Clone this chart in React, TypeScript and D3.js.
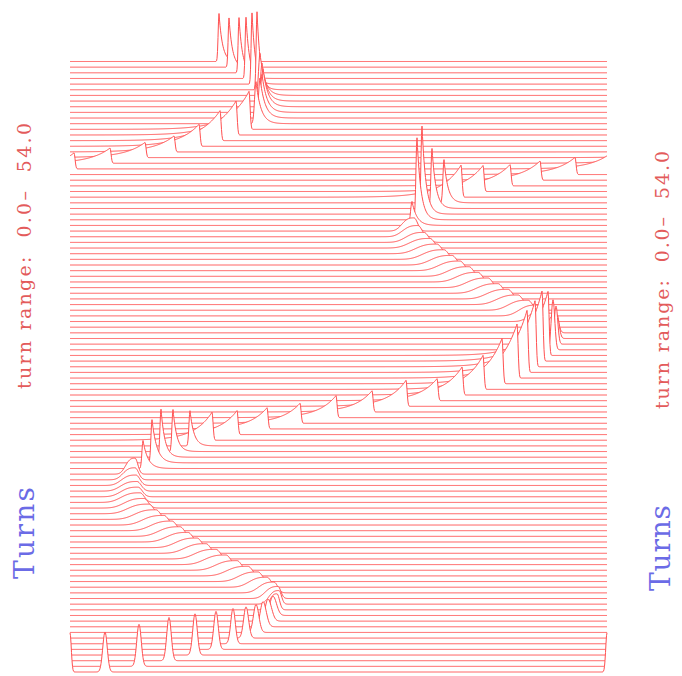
import React, { useEffect, useRef } from "react";
import * as d3 from "d3";

// one trace every half turn, turn 0.0 at the bottom up to 54.0 at the top
const turnRange = [0, 54];
const turnStep = 0.5;
const binsPerTurn = 537;

// bunch peak position per trace (time bins inside the window)
const peakBin = [
  35, 69, 99, 125, 146, 163, 176, 186, 193, 198,
  203, 207, 209, 208, 204, 197, 188, 178, 167, 156,
  146, 136, 127, 118, 110, 102, 94, 86, 79, 74,
  70, 68, 67, 66, 65, 65, 73, 82, 91, 103,
  120, 142, 167, 197, 230, 266, 302, 336, 367, 392,
  413, 432, 447, 457, 465, 472, 478, 483, 486, 487,
  486, 481, 475, 467, 458, 448, 438, 428, 418, 408,
  399, 390, 382, 374, 367, 360, 354, 348, 344, 342,
  347, 352, 362, 374, 391, 413, 440, 470, 505, 4,
  40, 75, 104, 129, 150, 166, 179, 186, 190, 192,
  193, 192, 190, 187, 182, 176, 169, 159, 149,
];

// peak amplitude, normalised to the first bunch
const peakAmp = [
  1.0, 1.05, 1.08, 1.03, 0.95, 0.88, 0.78, 0.7, 0.63, 0.55,
  0.48, 0.4, 0.34, 0.3, 0.27, 0.25, 0.24, 0.24, 0.24, 0.24,
  0.24, 0.24, 0.24, 0.24, 0.24, 0.24, 0.24, 0.24, 0.24, 0.24,
  0.24, 0.24, 0.24, 0.26, 0.3, 0.4, 0.7, 1.08, 1.2, 1.05,
  0.88, 0.7, 0.6, 0.53, 0.5, 0.55, 0.53, 0.65, 0.55, 0.7,
  0.85, 1.13, 1.35, 1.55, 1.65, 1.75, 1.6, 1.25, 0.95, 0.6,
  0.45, 0.35, 0.3, 0.27, 0.25, 0.24, 0.24, 0.24, 0.24, 0.24,
  0.24, 0.24, 0.24, 0.24, 0.24, 0.24, 0.25, 0.28, 0.33, 0.6,
  2.05, 2.2, 1.5, 1.08, 0.8, 0.65, 0.53, 0.48, 0.43, 0.4,
  0.38, 0.38, 0.4, 0.55, 0.75, 0.85, 0.95, 1.05, 1.0, 0.95,
  0.95, 0.95, 1.05, 1.95, 1.78, 1.53, 1.38, 1.23, 1.2,
];

// width of the early (left) side of each bunch, in bins
const riseWidth = [
  3.2, 3.2, 3.2, 3.2, 3.2, 3.2, 3.4, 3.6, 3.8, 4,
  4.5, 9, 12, 15, 18, 21, 23, 25, 25, 25,
  25, 25, 25, 25, 25, 25, 25, 25, 25, 23,
  22, 20, 19, 17, 14, 11, 1.5, 1.5, 1.5, 1.5,
  1.5, 18, 18, 18, 18, 18, 18, 18, 18, 18,
  18, 18, 18, 18, 18, 18, 18, 2.5, 2.5, 6,
  10, 14, 18, 21, 23, 25, 25, 25, 25, 25,
  25, 25, 25, 25, 25, 24, 21, 18, 14, 2,
  1.5, 1.5, 1.5, 1.5, 20, 20, 20, 20, 20, 20,
  20, 20, 20, 20, 20, 20, 20, 2, 2, 2,
  2, 2, 2, 1.2, 1.2, 1.2, 1.2, 1.2, 1.2,
];

// width of the late (right) side of each bunch, in bins
const fallWidth = [
  3.2, 3.2, 3.2, 3.2, 3.2, 3.2, 3.6, 4, 4.6, 5,
  5, 3.5, 3.5, 4, 5, 5.5, 6, 6, 6, 6,
  6, 6, 6, 6, 6, 6, 6, 6, 6, 6,
  6, 6, 6, 5.5, 5, 4, 5, 5, 4, 4,
  4, 1.5, 1.5, 1.5, 1.5, 1.5, 1.5, 1.5, 1.5, 1.5,
  1.5, 1.5, 1.5, 1.5, 1.5, 1.5, 1.5, 2.5, 2.5, 3,
  3.5, 4, 5, 6, 6, 6, 6, 6, 6, 6,
  6, 6, 6, 6, 6, 6, 6, 5.5, 5, 5,
  4, 4, 4, 4, 1.5, 1.5, 1.5, 1.5, 1.5, 1.5,
  1.5, 1.5, 1.5, 1.5, 1.5, 1.5, 1.5, 5, 5, 5,
  5, 5, 5, 3.5, 3.5, 3.5, 3.5, 3.5, 3.5,
];

// g: gaussian, p: flat top then falling edge, r: tail after the peak, l: ramp before the peak
const profileKind =
  "ggggggggggg" +
  "ppppppppppppppppppppppppp" +
  "rrrrr" +
  "llllllllllllllll" +
  "gg" +
  "pppppppppppppppppppp" +
  "rrrrr" +
  "lllllllllllll" +
  "rrrrrrrrrrrr";

// second bunch sitting on the window edge in the first trace
const edgePulses = [{ trace: 0, bin: 0, amp: 0.98, width: 1.8 }];

const rangeLabel = "turn range:  0.0\u2013  54.0";
const titleLabel = "Turns";

const App: React.FC = () => {
  const ref = useRef<SVGSVGElement>(null);

  useEffect(() => {
    if (!ref.current) return;
    const svg = d3.select(ref.current);
    svg.selectAll("*").remove();

    const x = d3.scaleLinear().domain([0, binsPerTurn]).range([70, 607]);
    const y = d3.scaleLinear().domain(turnRange).range([672, 61.5]);
    const amp = d3.scaleLinear().domain([0, 1]).range([0, 40]);

    const gauss = (d: number, w: number) => Math.exp(-(d / w) * (d / w));
    const expo = (d: number, w: number) => Math.exp(-d / w);
    const flat = (d: number, w: number) => Math.exp(-Math.pow(d / w, 3));

    const wrap = (d: number) => {
      const p = binsPerTurn;
      return ((((d + p / 2) % p) + p) % p) - p / 2;
    };

    const signal = (i: number, t: number) => {
      const kind = profileKind[i];
      const d = wrap(t - peakBin[i]);
      let v: number;
      if (d < 0) {
        const w = riseWidth[i];
        v = kind === "l" ? expo(-d, w) : kind === "p" ? flat(-d, w) : gauss(-d, w);
      } else {
        const w = fallWidth[i];
        v = kind === "r" ? expo(d, w) : gauss(d, w);
      }
      v *= peakAmp[i];
      edgePulses
        .filter((e) => e.trace === i)
        .forEach((e) => {
          v += e.amp * gauss(Math.abs(wrap(t - e.bin)), e.width);
        });
      return v;
    };

    const samples = d3.range(0, binsPerTurn + 0.25, 0.5);
    const traces = d3.range(peakBin.length);

    const g = svg.append("g");

    // back to front, each trace masks what lies behind it
    traces
      .slice()
      .reverse()
      .forEach((i) => {
        const base = y(turnRange[0] + i * turnStep);
        const pts: [number, number][] = samples.map((t) => [t, signal(i, t)]);

        const area = d3
          .area<[number, number]>()
          .x((d) => x(d[0]))
          .y0(base)
          .y1((d) => base - amp(d[1]));
        const line = d3
          .line<[number, number]>()
          .x((d) => x(d[0]))
          .y((d) => base - amp(d[1]));

        g.append("path").attr("d", area(pts)).attr("fill", "#ffffff");
        g.append("path")
          .attr("d", line(pts))
          .attr("fill", "none")
          .attr("stroke", "#ff5050")
          .attr("stroke-width", 1);
      });

    const labels = [
      { text: rangeLabel, x: 24, y: 256, size: 19, len: 266, color: "#e35b5b" },
      { text: rangeLabel, x: 662, y: 280, size: 19, len: 258, color: "#e35b5b" },
      { text: titleLabel, x: 24, y: 533, size: 28, len: 92, color: "#6b6be6" },
      { text: titleLabel, x: 660, y: 548, size: 28, len: 86, color: "#6b6be6" },
    ];
    svg
      .selectAll("text.lbl")
      .data(labels)
      .enter()
      .append("text")
      .attr("class", "lbl")
      .attr("transform", (d) => `translate(${d.x},${d.y}) rotate(-90)`)
      .attr("text-anchor", "middle")
      .attr("dominant-baseline", "central")
      .attr("textLength", (d) => d.len)
      .attr("lengthAdjust", "spacing")
      .style("font-family", "'DejaVu Serif', serif")
      .style("font-size", (d) => `${d.size}px`)
      .style("white-space", "pre")
      .attr("fill", (d) => d.color)
      .text((d) => d.text);
  }, []);

  return (
    <svg
      ref={ref}
      width={682}
      height={676}
      style={{ position: "absolute", left: 0, top: 0, background: "#fff" }}
    />
  );
};

export default App;
